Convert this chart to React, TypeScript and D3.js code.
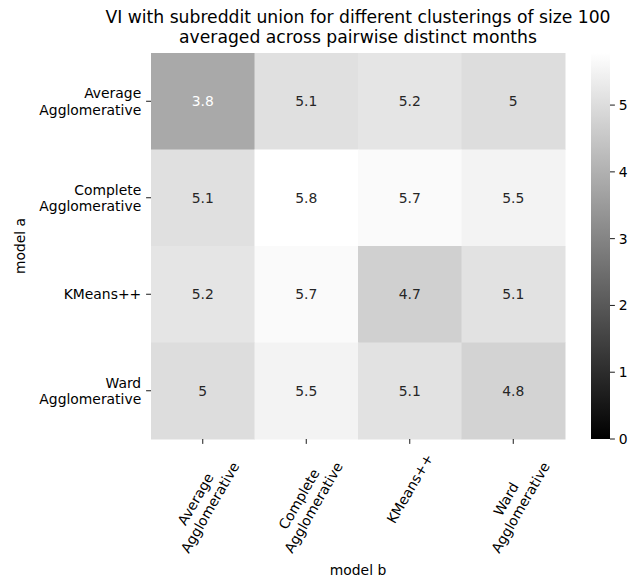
import * as d3 from 'd3';
import { useEffect } from 'react';

// labels for both axes, one entry per line of the tick label
const models: string[][] = [
  ['Average', 'Agglomerative'],
  ['Complete', 'Agglomerative'],
  ['KMeans++'],
  ['Ward', 'Agglomerative'],
];

// VI values, one array per row (model a)
const rowAverage = [3.82, 5.08, 5.2, 5.01];
const rowComplete = [5.08, 5.78, 5.66, 5.5];
const rowKMeans = [5.2, 5.66, 4.71, 5.12];
const rowWard = [5.01, 5.5, 5.12, 4.79];
const rows = [rowAverage, rowComplete, rowKMeans, rowWard];

const colorbarTicks = [0, 1, 2, 3, 4, 5];

const titleLines = [
  'VI with subreddit union for different clusterings of size 100',
  'averaged across pairwise distinct months',
];

const W = 641;
const H = 579;
const LEFT = 151;
const RIGHT = 565;
const TOP = 53;
const BOTTOM = 439;
const CB_X0 = 591;
const CB_X1 = 610;
const FONT = "'DejaVu Sans', sans-serif";
const TICK_FS = 13.9;
const LINE_H = 16.7;

const fmt = d3.format('.2~g');

let measureCtx: CanvasRenderingContext2D | null = null;
function textWidth(s: string, size: number) {
  if (!measureCtx) measureCtx = document.createElement('canvas').getContext('2d');
  if (!measureCtx) return s.length * size * 0.6;
  measureCtx.font = `${size}px 'DejaVu Sans'`;
  return measureCtx.measureText(s).width;
}

// relative luminance, same rule seaborn uses to pick annotation colour
function luminance(c: string) {
  const rgb = d3.rgb(c);
  const ch = [rgb.r, rgb.g, rgb.b].map((v) => {
    const x = v / 255;
    return x <= 0.03928 ? x / 12.92 : Math.pow((x + 0.055) / 1.055, 2.4);
  });
  return 0.2126 * ch[0] + 0.7152 * ch[1] + 0.0722 * ch[2];
}

export default function App() {
  useEffect(() => {
    document.body.style.margin = '0';
    document.body.style.overflow = 'hidden';
  }, []);

  const vmax = d3.max(rows.flat()) ?? 1;
  const color = d3.scaleLinear<string>().domain([0, vmax]).range(['#000000', '#ffffff']);

  const idx = models.map((_, i) => String(i));
  const x = d3.scaleBand().domain(idx).range([LEFT, RIGHT]);
  const y = d3.scaleBand().domain(idx).range([TOP, BOTTOM]);
  const cb = d3.scaleLinear().domain([0, vmax]).range([BOTTOM, TOP]);

  const tickLen = 4.9;
  const pad = 4.9;
  const ang = (60 * Math.PI) / 180;

  return (
    <svg
      width={W}
      height={H}
      style={{ display: 'block', position: 'fixed', left: 0, top: 0 }}
      fontFamily={FONT}
    >
      <rect width={W} height={H} fill="#fff" />
      {titleLines.map((t, i) => (
        <text key={t} x={(LEFT + RIGHT) / 2} y={22.5 + i * 20.5} textAnchor="middle" fontSize={17.2} fill="#000">
          {t}
        </text>
      ))}

      {/* cells */}
      {rows.map((row, r) =>
        row.map((v, c) => {
          const fill = color(v);
          const cx = (x(String(c)) ?? 0) + x.bandwidth() / 2;
          const cy = (y(String(r)) ?? 0) + y.bandwidth() / 2;
          return (
            <g key={`${r}-${c}`}>
              <rect
                x={x(String(c))}
                y={y(String(r))}
                width={x.bandwidth() + 0.5}
                height={y.bandwidth() + 0.5}
                fill={fill}
              />
              <text
                x={cx}
                y={cy}
                textAnchor="middle"
                dominantBaseline="central"
                fontSize={TICK_FS}
                fill={luminance(fill) > 0.408 ? '#262626' : '#ffffff'}
              >
                {fmt(v)}
              </text>
            </g>
          );
        }),
      )}

      {/* y axis */}
      {models.map((lines, i) => {
        const cy = (y(String(i)) ?? 0) + y.bandwidth() / 2;
        return (
          <g key={`y${i}`}>
            <line x1={LEFT - tickLen} x2={LEFT} y1={cy} y2={cy} stroke="#000" strokeWidth={0.9} />
            {lines.map((ln, j) => (
              <text
                key={ln}
                x={LEFT - tickLen - pad}
                y={cy + (j - (lines.length - 1) / 2) * 16.5}
                textAnchor="end"
                dominantBaseline="central"
                fontSize={TICK_FS}
                fill="#000"
              >
                {ln}
              </text>
            ))}
          </g>
        );
      })}
      <text
        transform={`translate(20,${(TOP + BOTTOM) / 2}) rotate(-90)`}
        textAnchor="middle"
        dominantBaseline="central"
        fontSize={TICK_FS}
        fill="#000"
      >
        model a
      </text>

      {/* x axis: rotated labels, bbox centred on tick and hung below it */}
      {models.map((lines, i) => {
        const cx = (x(String(i)) ?? 0) + x.bandwidth() / 2;
        const w = d3.max(lines, (l) => textWidth(l, TICK_FS)) ?? 0;
        const h = lines.length * LINE_H;
        const bbH = w * Math.sin(ang) + h * Math.cos(ang);
        const top = BOTTOM + tickLen + pad;
        return (
          <g key={`x${i}`}>
            <line x1={cx} x2={cx} y1={BOTTOM} y2={BOTTOM + tickLen} stroke="#000" strokeWidth={0.9} />
            <g transform={`translate(${cx},${top + bbH / 2 + 2}) rotate(-60)`}>
              {lines.map((ln, j) => (
                <text
                  key={ln}
                  x={0}
                  y={(j - (lines.length - 1) / 2) * LINE_H}
                  textAnchor="middle"
                  dominantBaseline="central"
                  fontSize={TICK_FS}
                  fill="#000"
                >
                  {ln}
                </text>
              ))}
            </g>
          </g>
        );
      })}
      <text x={(LEFT + RIGHT) / 2} y={570} textAnchor="middle" dominantBaseline="central" fontSize={TICK_FS} fill="#000">
        model b
      </text>

      {/* colorbar */}
      <defs>
        <linearGradient id="cbgrad" x1="0" y1="1" x2="0" y2="0">
          <stop offset="0" stopColor={color(0)} />
          <stop offset="1" stopColor={color(vmax)} />
        </linearGradient>
      </defs>
      <rect x={CB_X0} y={TOP} width={CB_X1 - CB_X0} height={BOTTOM - TOP} fill="url(#cbgrad)" />
      {colorbarTicks.map((t) => (
        <g key={`cb${t}`}>
          <line x1={CB_X1} x2={CB_X1 + tickLen} y1={cb(t)} y2={cb(t)} stroke="#000" strokeWidth={0.9} />
          <text x={CB_X1 + tickLen + pad - 1} y={cb(t)} dominantBaseline="central" fontSize={TICK_FS} fill="#000">
            {t}
          </text>
        </g>
      ))}
    </svg>
  );
}
